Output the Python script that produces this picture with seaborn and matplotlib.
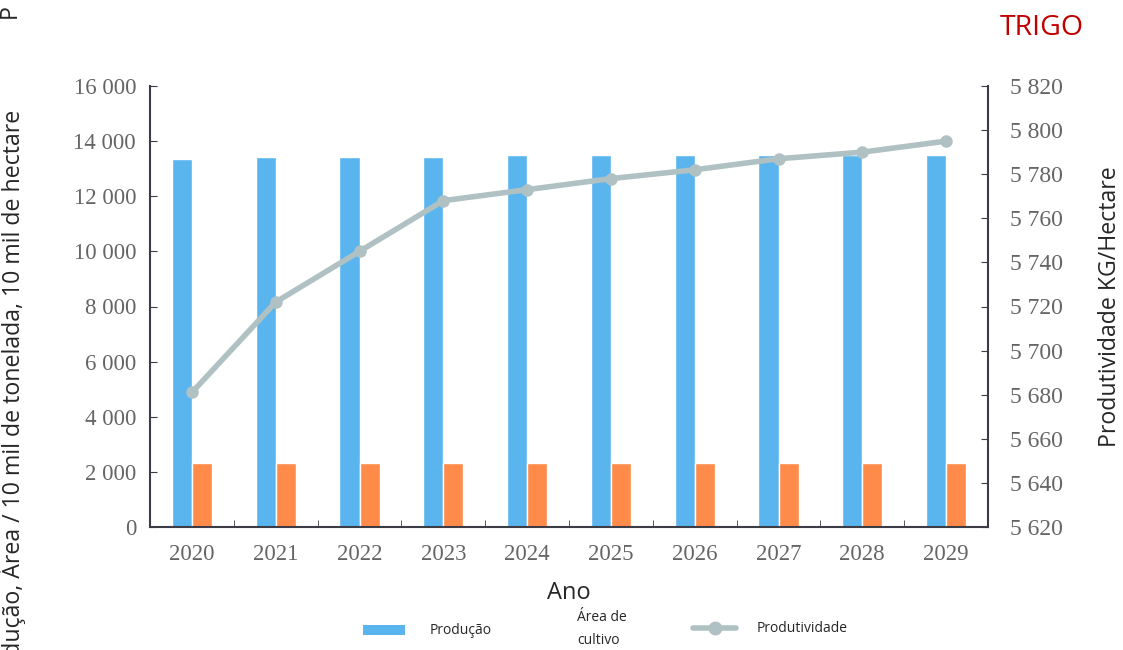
import numpy as np
import pandas as pd
import matplotlib
matplotlib.use("Agg")
import matplotlib.pyplot as plt
import seaborn as sns
from matplotlib.patches import Patch
from matplotlib.lines import Line2D
from matplotlib.ticker import FixedLocator

# data
anos = ["2020", "2021", "2022", "2023", "2024", "2025", "2026", "2027", "2028", "2029"]
producao = [13350, 13425, 13425, 13425, 13500, 13495, 13495, 13495, 13500, 13500]
area = [2320, 2320, 2320, 2320, 2320, 2320, 2320, 2320, 2320, 2320]
produtividade = [5681, 5722, 5745, 5768, 5773, 5778, 5782, 5787, 5790, 5795]

left_ticks = [0, 2000, 4000, 6000, 8000, 10000, 12000, 14000, 16000]
right_ticks = [5620, 5640, 5660, 5680, 5700, 5720, 5740, 5760, 5780, 5800, 5820]

sns.set_style("white")
plt.rcParams['font.family'] = ['Open Sans', 'DejaVu Sans']

azul = "#5ab5ef"
laranja = "#ff8b4a"
cinza = "#b0c1c3"
tick_color = "#656565"
spine_color = "#3c3c46"

df = pd.DataFrame({
    "Ano": anos * 2,
    "valor": producao + area,
    "serie": ["Produção"] * len(anos) + ["Área de cultivo"] * len(anos),
})

fig = plt.figure(figsize=(11.23, 6.5), dpi=100)
ax = fig.add_axes([150/1123, 1-527/650, 838/1123, 441/650])

sns.barplot(data=df, x="Ano", y="valor", hue="serie", palette=[azul, laranja],
            width=0.48, gap=0, ax=ax, legend=False, saturation=1)
ax.set_xlim(-0.5, 9.5)
ax.set_ylim(0, 16000)
ax.set_yticks(left_ticks)
ax.set_yticklabels(["0"] + [f"{v//1000} 000" for v in left_ticks[1:]])
ax.set_xlabel("Ano", fontsize=17, labelpad=12)
ax.set_ylabel("")

serif = "Liberation Serif"
for lab in ax.get_xticklabels() + ax.get_yticklabels():
    lab.set_fontfamily(serif)
    lab.set_fontsize(16.5)
    lab.set_color(tick_color)

ax.tick_params(axis="x", which="major", length=0, pad=12)
ax.xaxis.set_minor_locator(FixedLocator(np.arange(0.5, 9.5, 1)))
ax.tick_params(axis="x", which="minor", direction="in", length=5, color=spine_color, bottom=True)
ax.tick_params(axis="y", direction="in", length=5, color=spine_color, pad=10, left=True)

for s in ["top", "right"]:
    ax.spines[s].set_visible(False)
for s in ["left", "bottom"]:
    ax.spines[s].set_color(spine_color)
    ax.spines[s].set_linewidth(1.5)

ax2 = ax.twinx()
sns.lineplot(x=np.arange(len(anos)), y=produtividade, ax=ax2, color=cinza,
             linewidth=4, marker="o", markersize=9, markeredgewidth=0)
ax2.set_ylim(5620, 5820)
ax2.set_yticks(right_ticks)
ax2.set_yticklabels([f"5 {v - 5000}" for v in right_ticks])
for lab in ax2.get_yticklabels():
    lab.set_fontfamily(serif)
    lab.set_fontsize(17)
    lab.set_color(tick_color)
ax2.tick_params(axis="y", direction="in", length=5, color=spine_color, pad=16, right=True)
ax2.set_ylabel("Produtividade KG/Hectare", fontsize=16.7, labelpad=25)
for s in ["top", "left", "bottom"]:
    ax2.spines[s].set_visible(False)
ax2.spines["right"].set_color(spine_color)
ax2.spines["right"].set_linewidth(1.5)

fig.text(12/1123, 1-110/650, "Produção, Área / 10 mil de tonelada, 10 mil de hectare",
         rotation=90, va="top", ha="center", fontsize=16.7)
fig.text(10/1123, 1-18/650, "P", rotation=90, va="bottom", ha="center", fontsize=16.7)
fig.text(1042/1123, 1-28/650, "TRIGO", color="#c00000", fontsize=20.5, ha="center", va="center")

leg1 = fig.legend([Patch(facecolor=azul, edgecolor="none"), Patch(facecolor="white", edgecolor="none")],
                  ["Produção", "Área de\ncultivo"], loc="center left",
                  bbox_to_anchor=(363/1123, 1-629/650), ncol=2, frameon=False, fontsize=10,
                  handlelength=3, handletextpad=1.8, columnspacing=1.35,
                  borderpad=0, borderaxespad=0)
leg1.get_texts()[1].set_linespacing(1.75)
leg2 = fig.legend([Line2D([0], [0], color=cinza, linewidth=4, marker="o", markersize=9)],
                  ["Produtividade"], loc="center left",
                  bbox_to_anchor=(693/1123, 1-629/650), frameon=False, fontsize=10,
                  handlelength=3.1, handletextpad=1.5, borderpad=0, borderaxespad=0)

fig.savefig("out.png", dpi=100)
